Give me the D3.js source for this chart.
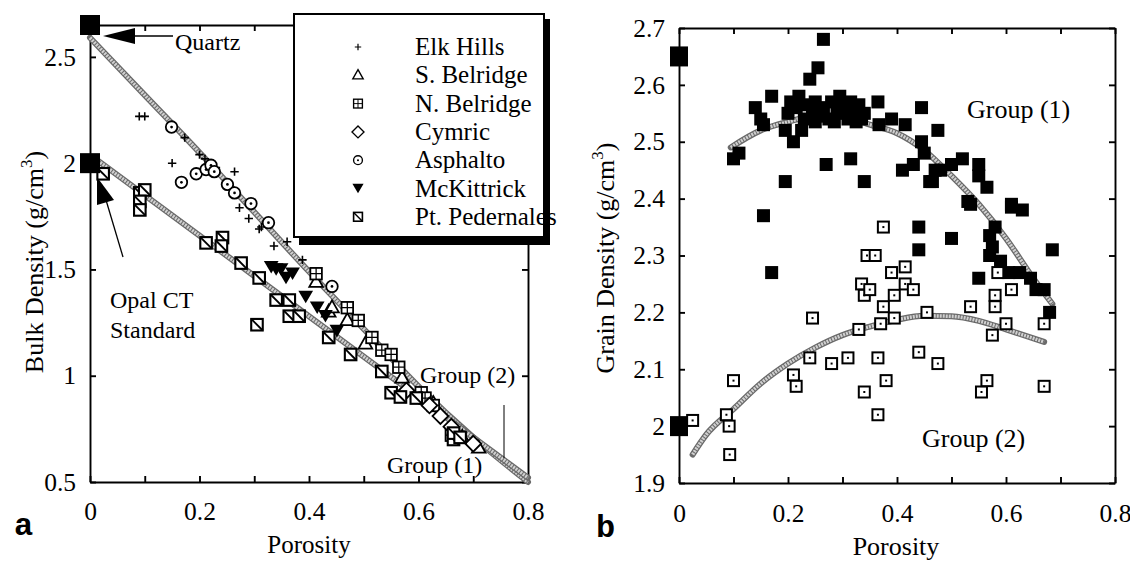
<!DOCTYPE html>
<html>
<head>
<meta charset="utf-8">
<script src="https://cdn.jsdelivr.net/npm/d3@7"></script>
<style>
  body { margin: 0; background: #fff; }
  .tick line, .domain { stroke: #000; stroke-width: 1.9; }
</style>
</head>
<body>
<svg id="chart"></svg>
<script>
// Set dimensions for the SVG
const width = 1130;
const height = 564;
const serif = "'Liberation Serif', 'Times New Roman', Times, serif";

// Panel a: bulk density vs porosity, one list per field
const elkHills = [[0.09,2.22],[0.10,2.22],[0.15,2.0],[0.173,2.12],[0.2,2.04],[0.21,2.02],[0.23,1.98],[0.264,1.96],[0.273,1.79],[0.29,1.74],[0.309,1.69],[0.313,1.70],[0.336,1.61],[0.36,1.63],[0.388,1.545]];
const sBelridge = [[0.413,1.44],[0.436,1.30],[0.442,1.32],[0.47,1.26],[0.503,1.15],[0.57,0.99],[0.627,0.87],[0.68,0.71],[0.71,0.66]];
const nBelridge = [[0.413,1.48],[0.47,1.32],[0.49,1.26],[0.515,1.18],[0.533,1.12],[0.55,1.10],[0.564,1.04],[0.605,0.92],[0.612,0.895],[0.627,0.86],[0.66,0.72]];
const cymric = [[0.578,0.93],[0.62,0.86],[0.64,0.81],[0.66,0.76],[0.70,0.68]];
const asphalto = [[0.149,2.17],[0.167,1.91],[0.194,1.95],[0.212,1.97],[0.221,1.99],[0.227,1.96],[0.251,1.90],[0.264,1.86],[0.294,1.81],[0.326,1.72],[0.442,1.42]];
const mcKittrick = [[0.331,1.51],[0.34,1.50],[0.349,1.50],[0.358,1.46],[0.37,1.48],[0.394,1.37],[0.415,1.32],[0.43,1.28],[0.451,1.21]];
const ptPedernales = [[0.024,1.95],[0.091,1.86],[0.1,1.874],[0.091,1.82],[0.091,1.78],[0.212,1.625],[0.242,1.65],[0.24,1.61],[0.276,1.53],[0.309,1.46],[0.305,1.24],[0.34,1.356],[0.364,1.356],[0.364,1.28],[0.382,1.28],[0.436,1.18],[0.476,1.10],[0.533,1.02],[0.55,0.92],[0.567,0.90],[0.596,0.895],[0.664,0.70],[0.664,0.73],[0.676,0.71]];
const bulkEnds = [[0,2.65],[0,2.0]];
const bulkLine1 = [[0,2.59],[0.1,2.32],[0.2,2.05],[0.3,1.77],[0.4,1.49],[0.5,1.22],[0.6,0.95],[0.7,0.71],[0.8,0.5]];
const bulkLine2 = [[0.01,2.02],[0.8,0.52]];

// Panel b: grain density vs porosity
const group1 = [[0.1,2.47],[0.11,2.48],[0.14,2.56],[0.15,2.54],[0.155,2.53],[0.155,2.37],[0.17,2.27],[0.17,2.58],[0.195,2.43],[0.195,2.52],[0.21,2.50],[0.225,2.52],[0.24,2.61],[0.255,2.63],[0.265,2.68],
  [0.2,2.55],[0.205,2.57],[0.215,2.56],[0.22,2.58],[0.23,2.54],[0.235,2.565],[0.245,2.55],[0.25,2.57],[0.26,2.545],[0.265,2.56],[0.275,2.54],[0.28,2.57],[0.29,2.55],[0.295,2.58],[0.3,2.56],[0.31,2.54],[0.315,2.57],[0.32,2.55],[0.33,2.565],[0.335,2.54],[0.34,2.55],[0.25,2.535],[0.285,2.535],[0.325,2.535],
  [0.27,2.46],[0.315,2.47],[0.34,2.43],[0.365,2.57],[0.367,2.53],[0.39,2.54],[0.415,2.53],[0.445,2.56],[0.445,2.50],[0.45,2.48],[0.43,2.46],[0.41,2.45],[0.46,2.43],[0.475,2.52],[0.47,2.45],[0.48,2.45],[0.465,2.43],[0.50,2.46],[0.52,2.47],[0.55,2.46],[0.55,2.44],[0.565,2.42],[0.53,2.395],[0.535,2.39],[0.61,2.385],[0.63,2.38],[0.61,2.39],[0.50,2.33],[0.58,2.35],[0.57,2.335],[0.575,2.315],[0.57,2.30],[0.59,2.29],[0.55,2.26],[0.605,2.27],[0.625,2.27],[0.645,2.26],[0.655,2.24],[0.67,2.24],[0.685,2.31],[0.68,2.20],[0.44,2.35],[0.44,2.31]];
const group2 = [[0.025,2.01],[0.087,2.02],[0.092,2.0],[0.093,1.95],[0.10,2.08],[0.21,2.09],[0.215,2.07],[0.24,2.12],[0.245,2.19],[0.28,2.11],[0.31,2.12],[0.33,2.17],[0.335,2.25],[0.34,2.23],[0.34,2.06],[0.345,2.30],[0.35,2.24],[0.36,2.30],[0.365,2.12],[0.365,2.02],[0.37,2.18],[0.375,2.35],[0.375,2.21],[0.38,2.08],[0.39,2.27],[0.395,2.23],[0.395,2.19],[0.415,2.28],[0.415,2.25],[0.43,2.24],[0.44,2.13],[0.455,2.20],[0.475,2.11],[0.535,2.21],[0.555,2.06],[0.565,2.08],[0.575,2.16],[0.58,2.23],[0.58,2.21],[0.585,2.27],[0.60,2.18],[0.61,2.24],[0.67,2.18],[0.67,2.07]];
const grainEnds = [[0,2.65],[0,2.0]];
const grainCurve1 = [[0.095,2.49],[0.15,2.52],[0.2,2.535],[0.25,2.545],[0.3,2.545],[0.35,2.53],[0.4,2.515],[0.45,2.485],[0.5,2.44],[0.55,2.39],[0.6,2.33],[0.65,2.26],[0.685,2.215]];
const grainCurve2 = [[0.025,1.95],[0.05,1.985],[0.1,2.03],[0.15,2.075],[0.2,2.11],[0.25,2.138],[0.3,2.16],[0.35,2.175],[0.4,2.187],[0.45,2.194],[0.5,2.193],[0.55,2.185],[0.6,2.17],[0.67,2.148]];

// Tick values
const porosityTicks = [0,0.1,0.2,0.3,0.4,0.5,0.6,0.7,0.8];
const bulkTicks = [0.5,1,1.5,2,2.5];
const grainTicks = [1.9,2,2.1,2.2,2.3,2.4,2.5,2.6,2.7];

const legendNames = ["Elk Hills","S. Belridge","N. Belridge","Cymric","Asphalto","McKittrick","Pt. Pedernales"];
const legendShapes = ["plus","triUp","sqPlus","diamond","circDot","triDown","sqDiag"];
const bulkSeries = [elkHills, sBelridge, nBelridge, cymric, asphalto, mcKittrick, ptPedernales];

// Create the SVG container
const svg = d3.select("#chart").attr("width", width).attr("height", height);

const fmtPor = (d) => (Math.round(d * 10) % 2 ? "" : String(+d.toFixed(1)));
const fmtNum = (d) => String(+d.toFixed(1));

// draw one marker of a given shape, s = scale
function marker(g, shape, x, y, s = 1) {
  const m = g.append("g").attr("transform", `translate(${x},${y}) scale(${s})`);
  const sw = 1.7;
  if (shape === "plus") {
    m.append("path").attr("d", "M-4,0H4M0,-4V4").attr("stroke", "#000").attr("stroke-width", 1.5);
  } else if (shape === "triUp") {
    m.append("path").attr("d", "M0,-7L6.5,4.5L-6.5,4.5Z").attr("fill", "#fff").attr("stroke", "#000").attr("stroke-width", sw);
  } else if (shape === "sqPlus") {
    m.append("rect").attr("x", -5.5).attr("y", -5.5).attr("width", 11).attr("height", 11).attr("fill", "#fff").attr("stroke", "#000").attr("stroke-width", sw);
    m.append("path").attr("d", "M-5.5,0H5.5M0,-5.5V5.5").attr("stroke", "#000").attr("stroke-width", 1.2);
  } else if (shape === "diamond") {
    m.append("path").attr("d", "M0,-7.5L7.5,0L0,7.5L-7.5,0Z").attr("fill", "#fff").attr("stroke", "#000").attr("stroke-width", sw);
  } else if (shape === "circDot") {
    m.append("circle").attr("r", 5.5).attr("fill", "#fff").attr("stroke", "#000").attr("stroke-width", sw);
    m.append("circle").attr("r", 1.3).attr("fill", "#000");
  } else if (shape === "triDown") {
    m.append("path").attr("d", "M-7,-6L7,-6L0,6Z").attr("fill", "#000");
  } else if (shape === "sqDiag") {
    m.append("rect").attr("x", -5.5).attr("y", -5.5).attr("width", 11).attr("height", 11).attr("fill", "#fff").attr("stroke", "#000").attr("stroke-width", 2);
    m.append("path").attr("d", "M-5.5,-5.5L5.5,5.5").attr("stroke", "#000").attr("stroke-width", 1.8);
  }
}

// hatched grey band used for the fitted lines
function band(g, data, x, y, curve) {
  const line = d3.line().x((d) => x(d[0])).y((d) => y(d[1])).curve(curve);
  g.append("path").datum(data).attr("d", line).attr("fill", "none").attr("stroke", "#6a6a6a").attr("stroke-width", 6).attr("stroke-linecap", "round");
  g.append("path").datum(data).attr("d", line).attr("fill", "none").attr("stroke", "#d0d0d0").attr("stroke-width", 3.5).attr("stroke-dasharray", "2,1");
}

function frame(g, x, y, xTicks, yTicks, yFmt, yRight, xPad, yPad) {
  const [x0, x1] = x.range();
  const [y0, y1] = y.range();
  g.append("g").attr("transform", `translate(0,${y0})`)
    .call(d3.axisBottom(x).tickValues(xTicks).tickFormat(fmtPor).tickSizeInner(-6).tickSizeOuter(0).tickPadding(xPad));
  g.append("g").attr("transform", `translate(0,${y1})`)
    .call(d3.axisTop(x).tickValues(xTicks).tickFormat("").tickSizeInner(-6).tickSizeOuter(0));
  g.append("g").attr("transform", `translate(${x0},0)`)
    .call(d3.axisLeft(y).tickValues(yTicks).tickFormat(yFmt).tickSizeInner(-6).tickSizeOuter(0).tickPadding(yPad));
  g.append("g").attr("transform", `translate(${x1},0)`)
    .call(d3.axisRight(y).tickValues(yRight).tickFormat("").tickSizeInner(-6).tickSizeOuter(0));
  g.selectAll(".tick text").attr("font-size", 25.5).attr("fill", "#000");
}

// ---------- panel a ----------
const xa = d3.scaleLinear().domain([0, 0.8]).range([90, 528]);
const ya = d3.scaleLinear().domain([0.5, 2.65]).range([482, 25]);
const ga = svg.append("g");
frame(ga, xa, ya, porosityTicks, bulkTicks, fmtNum, bulkTicks, 20, 14);

band(ga, bulkLine1, xa, ya, d3.curveMonotoneX);
band(ga, bulkLine2, xa, ya, d3.curveLinear);

bulkSeries.forEach((ser, i) => {
  ser.forEach((d) => marker(ga, legendShapes[i], xa(d[0]), ya(d[1]), 1.05));
});
bulkEnds.forEach((d) => {
  ga.append("rect").attr("x", xa(d[0]) - 10).attr("y", ya(d[1]) - 10).attr("width", 20).attr("height", 20).attr("fill", "#000");
});

// annotations
ga.append("path").attr("d", "M103,36L135,28L135,44Z").attr("fill", "#000");
ga.append("line").attr("x1", 135).attr("y1", 36).attr("x2", 173).attr("y2", 36).attr("stroke", "#000").attr("stroke-width", 1.5);
ga.append("text").attr("x", 175).attr("y", 50).attr("font-size", 24).text("Quartz");
ga.append("path").attr("d", "M97,177L97,205L114,200Z").attr("fill", "#000");
ga.append("line").attr("x1", 106).attr("y1", 200).attr("x2", 123).attr("y2", 257).attr("stroke", "#000").attr("stroke-width", 1.3);
ga.append("text").attr("x", 110).attr("y", 308).attr("font-size", 24).text("Opal CT");
ga.append("text").attr("x", 110).attr("y", 338).attr("font-size", 24).text("Standard");
ga.append("text").attr("x", 420).attr("y", 383).attr("font-size", 24).text("Group (2)");
ga.append("text").attr("x", 387).attr("y", 473).attr("font-size", 24).text("Group (1)");
ga.append("line").attr("x1", 504).attr("y1", 405).attr("x2", 504).attr("y2", 458).attr("stroke", "#000").attr("stroke-width", 1);

// legend
const lg = svg.append("g");
lg.append("rect").attr("x", 299).attr("y", 19).attr("width", 251).attr("height", 226).attr("fill", "#000");
lg.append("rect").attr("x", 294).attr("y", 14).attr("width", 250).attr("height", 223).attr("fill", "#fff").attr("stroke", "#000").attr("stroke-width", 2);
legendNames.forEach((name, i) => {
  const cy = 47 + i * 28.3;
  marker(lg, legendShapes[i], 358, cy, 0.8);
  lg.append("text").attr("x", 415).attr("y", cy + 8).attr("font-size", 25).text(name);
});

// titles
const ta = ga.append("text").attr("transform", `translate(43,${262}) rotate(-90)`).attr("text-anchor", "middle").attr("font-size", 26);
ta.append("tspan").text("Bulk Density (g/cm");
ta.append("tspan").attr("font-size", 17).attr("dy", -11).text("3");
ta.append("tspan").attr("dy", 11).text(")");
ga.append("text").attr("x", 309).attr("y", 553).attr("text-anchor", "middle").attr("font-size", 25).text("Porosity");
ga.append("text").attr("class", "letter").attr("x", 14).attr("y", 535).attr("font-size", 32).text("a");

// ---------- panel b ----------
const xb = d3.scaleLinear().domain([0, 0.8]).range([679, 1115]);
const yb = d3.scaleLinear().domain([1.9, 2.7]).range([483, 28]);
const gb = svg.append("g");
frame(gb, xb, yb, porosityTicks, grainTicks, fmtNum, grainTicks, 21, 14);

band(gb, grainCurve1, xb, yb, d3.curveMonotoneX);
band(gb, grainCurve2, xb, yb, d3.curveMonotoneX);

group1.forEach((d) => {
  gb.append("rect").attr("x", xb(d[0]) - 6.5).attr("y", yb(d[1]) - 6.5).attr("width", 13).attr("height", 13).attr("fill", "#000");
});
group2.forEach((d) => {
  gb.append("rect").attr("x", xb(d[0]) - 5.5).attr("y", yb(d[1]) - 5.5).attr("width", 11).attr("height", 11).attr("fill", "#fff").attr("stroke", "#000").attr("stroke-width", 2);
  gb.append("rect").attr("x", xb(d[0]) - 1).attr("y", yb(d[1]) - 1).attr("width", 2).attr("height", 2).attr("fill", "#000");
});
grainEnds.forEach((d) => {
  gb.append("rect").attr("x", xb(d[0]) - 9).attr("y", yb(d[1]) - 10).attr("width", 18).attr("height", 20).attr("fill", "#000");
});

gb.append("text").attr("x", 967).attr("y", 118).attr("font-size", 26).text("Group (1)");
gb.append("text").attr("x", 922).attr("y", 447).attr("font-size", 26).text("Group (2)");

const tb = gb.append("text").attr("transform", `translate(614,${258}) rotate(-90)`).attr("text-anchor", "middle").attr("font-size", 26);
tb.append("tspan").text("Grain Density (g/cm");
tb.append("tspan").attr("font-size", 17).attr("dy", -11).text("3");
tb.append("tspan").attr("dy", 11).text(")");
gb.append("text").attr("x", 896).attr("y", 555).attr("text-anchor", "middle").attr("font-size", 26).text("Porosity");
gb.append("text").attr("class", "letter").attr("x", 596).attr("y", 537).attr("font-size", 32).text("b");

// fonts: serif everywhere, bold monospace for the panel letters
svg.selectAll("text").style("font-family", serif).style("fill", "#000");
svg.selectAll("text.letter").style("font-family", "'Liberation Mono', 'DejaVu Sans Mono', monospace").style("font-weight", "bold");
</script>
</body>
</html>
